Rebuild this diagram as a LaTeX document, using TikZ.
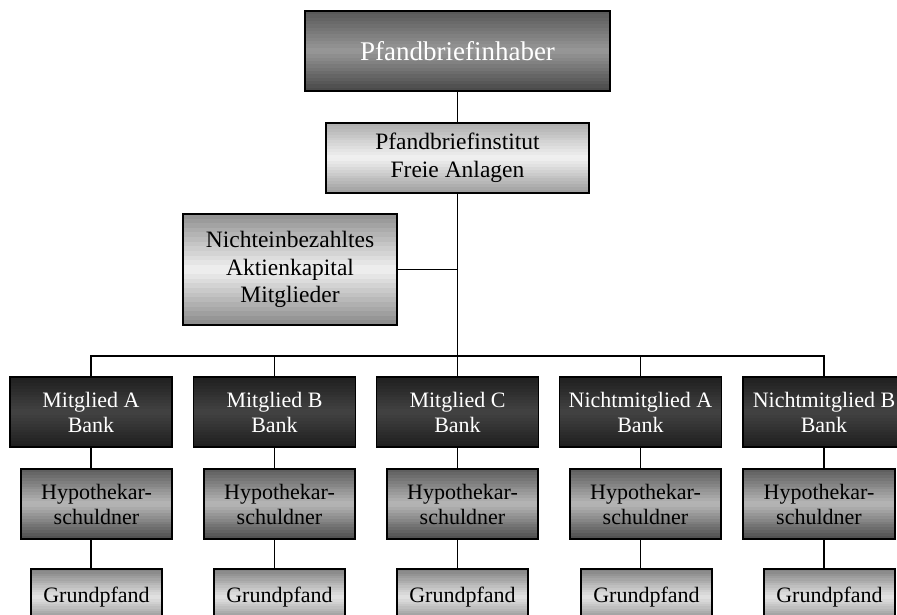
\documentclass[tikz,border=0pt]{standalone}
\usepackage{fontspec}
\setmainfont{Liberation Serif}
\usetikzlibrary{calc}
\definecolor{inhT}{gray}{0.34}\definecolor{inhM}{gray}{0.60}\definecolor{inhB}{gray}{0.28}
\definecolor{instT}{gray}{0.68}\definecolor{instM}{gray}{0.95}\definecolor{instB}{gray}{0.62}
\definecolor{kapT}{gray}{0.56}\definecolor{kapM}{gray}{0.95}\definecolor{kapB}{gray}{0.54}
\definecolor{bankT}{gray}{0.12}\definecolor{bankM}{gray}{0.26}\definecolor{bankB}{gray}{0.12}
\definecolor{hypT}{gray}{0.36}\definecolor{hypM}{gray}{0.72}\definecolor{hypB}{gray}{0.30}
\definecolor{grT}{gray}{0.50}\definecolor{grM}{gray}{0.90}\definecolor{grB}{gray}{0.50}
\tikzset{
  bands/.style n args={3}{path picture={
    \coordinate (bnw) at (path picture bounding box.north west);
    \coordinate (bse) at (path picture bounding box.south east);
    \foreach \i in {0,...,23}{
      \pgfmathsetmacro\fa{\i/24}
      \pgfmathsetmacro\fb{min(1,(\i+1.3)/24)}
      \ifnum\i<12
        \pgfmathtruncatemacro\bp{(\i+0.5)/12*100}\colorlet{bandc}{#2!\bp!#1}
      \else
        \pgfmathtruncatemacro\bp{(23.5-\i)/12*100}\colorlet{bandc}{#2!\bp!#3}
      \fi
      \fill[bandc] ($(bnw)!\fa!(bnw|-bse)$) rectangle ($(bse|-bnw)!\fb!(bse)$);
    }}}
}
\begin{document}
\begin{tikzpicture}[x=1pt,y=-1pt,
  box/.style={draw=black,line width=1.4pt,rectangle,inner sep=0pt,align=center,
    font=\fontsize{22}{25}\selectfont},
  inhbox/.style={box,bands={inhT}{inhM}{inhB},
    text=white,font=\fontsize{27}{30}\selectfont},
  instbox/.style={box,bands={instT}{instM}{instB},
    font=\fontsize{23.5}{27.5}\selectfont},
  kapbox/.style={box,bands={kapT}{kapM}{kapB},
    font=\fontsize{23.5}{27.5}\selectfont},
  bankbox/.style={box,bands={bankT}{bankM}{bankB},
    text=white,minimum width=162pt,minimum height=70pt},
  hypbox/.style={box,bands={hypT}{hypM}{hypB},
    minimum width=151pt,minimum height=70pt},
  grundbox/.style={box,bands={grT}{grM}{grB},
    minimum width=131pt,minimum height=56pt},
  link/.style={draw=black,line width=1.3pt}]
\useasboundingbox (0,0) rectangle (897,615);
\clip (0,0) rectangle (897,615);

\node[inhbox,minimum width=305pt,minimum height=80pt] (inh) at (457.5,51) {Pfandbriefinhaber};
\node[instbox,minimum width=263pt,minimum height=70pt] (inst) at (457.5,158) {Pfandbriefinstitut\\Freie Anlagen};
\node[kapbox,minimum width=214pt,minimum height=111pt] (kap) at (290,269.5) {Nichteinbezahltes\\Aktienkapital\\Mitglieder};

\node[bankbox] (bA) at (91,412) {Mitglied A\\Bank};
\node[bankbox] (bB) at (274.5,412) {Mitglied B\\Bank};
\node[bankbox] (bC) at (457.5,412) {Mitglied C\\Bank};
\node[bankbox] (bD) at (640.5,412) {Nichtmitglied A\\Bank};
\node[bankbox] (bE) at (824,412) {Nichtmitglied B\\Bank};

\node[hypbox] (hA) at (96.5,504) {Hypothekar-\\schuldner};
\node[hypbox] (hB) at (279.5,504) {Hypothekar-\\schuldner};
\node[hypbox] (hC) at (462.5,504) {Hypothekar-\\schuldner};
\node[hypbox] (hD) at (645.5,504) {Hypothekar-\\schuldner};
\node[hypbox,minimum width=152pt] (hE) at (819,504) {Hypothekar-\\schuldner};

\node[grundbox] (gA) at (96.5,597) {Grundpfand};
\node[grundbox] (gB) at (279.5,597) {Grundpfand};
\node[grundbox] (gC) at (462.5,597) {Grundpfand};
\node[grundbox] (gD) at (646.5,597) {Grundpfand};
\node[grundbox] (gE) at (829.5,597) {Grundpfand};

\coordinate (bus) at (457.5,356);

\draw[link] (inh.south) -- (inst.north);
\draw[link] (inst.south) -- (bC.north);
\draw[link] (kap.east) -- (kap.east -| inst.south);
\draw[link] (bA.north) |- (bus) -| (bE.north);
\draw[link] (bB.north) -- (bB.north |- bus);
\draw[link] (bD.north) -- (bD.north |- bus);
\foreach \b/\h/\g in {bA/hA/gA,bB/hB/gB,bC/hC/gC,bD/hD/gD,bE/hE/gE}{
  \draw[link] (\b.south) -- (\b.south |- \h.north);
  \draw[link] (\b.south |- \h.south) -- (\b.south |- \g.north);
}
\end{tikzpicture}
\end{document}
